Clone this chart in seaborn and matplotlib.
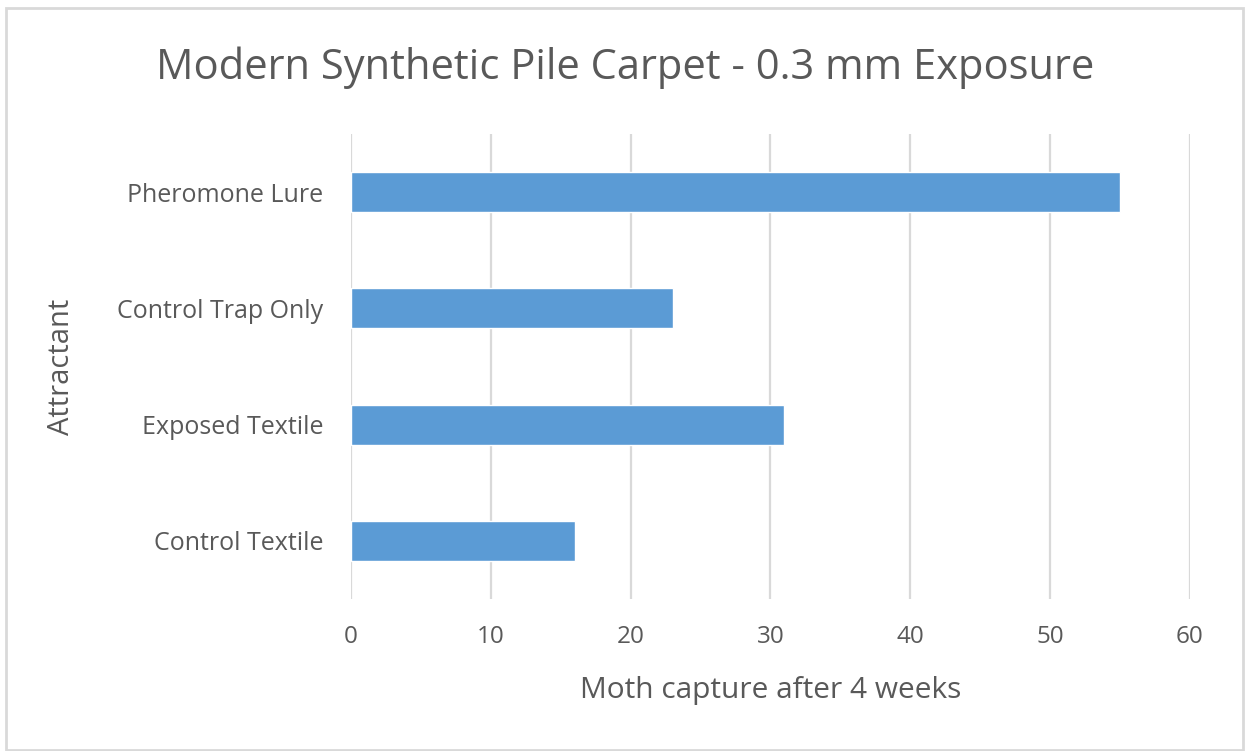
import matplotlib
matplotlib.use("Agg")
import matplotlib.pyplot as plt
import seaborn as sns
import pandas as pd
from matplotlib.patches import Rectangle

categories = ["Pheromone Lure", "Control Trap Only", "Exposed Textile", "Control Textile"]
captures = [55, 23, 31, 16]
x_ticks = [0, 10, 20, 30, 40, 50, 60]

title = "Modern Synthetic Pile Carpet - 0.3 mm Exposure"
x_label = "Moth capture after 4 weeks"
y_label = "Attractant"

bar_color = "#5B9BD5"
text_color = "#595959"
grid_color = "#D9D9D9"

sns.set_theme(style="white")
plt.rcParams["font.family"] = ["Open Sans", "DejaVu Sans"]

df = pd.DataFrame({"Attractant": categories, "Capture": captures})

fig = plt.figure(figsize=(12.45, 7.51), dpi=100)
ax = fig.add_axes([0.2819, 0.2024, 0.9558 - 0.2819, 0.8216 - 0.2024])

sns.barplot(data=df, x="Capture", y="Attractant", order=categories,
            color=bar_color, width=0.345, saturation=1, ax=ax, zorder=3)

ax.set_xlim(0, 60)
ax.set_ylim(3.5, -0.5)
ax.set_xticks(x_ticks)
ax.xaxis.grid(True, color=grid_color, linewidth=1.6, zorder=0)
ax.yaxis.grid(False)
for s in ax.spines.values():
    s.set_visible(False)

ax.tick_params(axis="both", length=0, colors=text_color)
ax.tick_params(axis="x", pad=19, labelsize=17.5)
ax.tick_params(axis="y", pad=20, labelsize=18)

ax.set_xlabel(x_label, color=text_color, fontsize=21.5, va="center")
ax.xaxis.set_label_coords(0.5, -0.196)
ax.set_ylabel(y_label, color=text_color, fontsize=21, va="center")
ax.yaxis.set_label_coords(-0.3445, 0.5)

fig.text(0.502, 0.910, title, ha="center", va="center",
         color=text_color, fontsize=30)

# light frame around the whole chart area
fig.patches.append(Rectangle((6 / 1245, 1 / 751), 1237 / 1245, 742 / 751,
                             transform=fig.transFigure, fill=False,
                             edgecolor="#D9D9D9", linewidth=2))

fig.savefig("out.png", dpi=100, facecolor="white")
